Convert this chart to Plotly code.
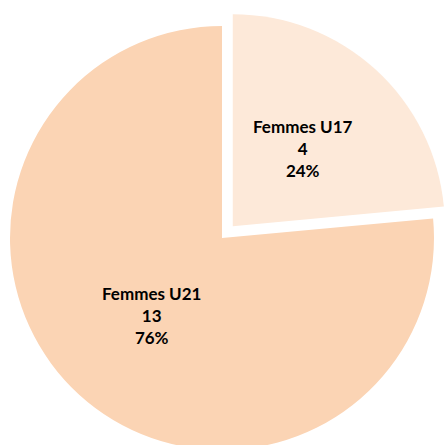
import math
import plotly.graph_objects as go

categories = ["Femmes U17", "Femmes U21"]
values = [4, 13]
colors = ["#FDE9D9", "#FBD4B4"]
pulled = [True, False]

W, H = 446, 462
R = 212
main_center = (222, 238)
pull_offset = 16  # pixels the pulled slice is moved out along its bisector

total = sum(values)
fracs = [v / total for v in values]

fig = go.Figure()

def dom(cx, cy):
    return dict(x=[(cx - R) / W, (cx + R) / W], y=[1 - (cy + R) / H, 1 - (cy - R) / H])

# slice mid-angles (clockwise from 12 o'clock)
mids = []
acc = 0
for f in fracs:
    mids.append((acc + f / 2) * 2 * math.pi)
    acc += f

transparent = "rgba(0,0,0,0)"
# main pie (non-pulled slices)
fig.add_trace(go.Pie(
    labels=categories, values=values, sort=False, direction="clockwise", rotation=0,
    marker=dict(colors=[transparent if p else c for c, p in zip(colors, pulled)], line=dict(width=0)),
    textinfo="none", hoverinfo="label+value+percent", domain=dom(*main_center), showlegend=False,
))
# pulled slice(s)
for i, p in enumerate(pulled):
    if not p:
        continue
    cx = main_center[0] + pull_offset * math.sin(mids[i])
    cy = main_center[1] - pull_offset * math.cos(mids[i])
    fig.add_trace(go.Pie(
        labels=categories, values=values, sort=False, direction="clockwise", rotation=0,
        marker=dict(colors=[c if j == i else transparent for j, c in enumerate(colors)], line=dict(width=0)),
        textinfo="none", hoverinfo="label+value+percent", domain=dom(cx, cy), showlegend=False,
    ))

# labels
for i, (cat, v, f) in enumerate(zip(categories, values, fracs)):
    cx, cy = main_center
    if pulled[i]:
        cx += pull_offset * math.sin(mids[i])
        cy -= pull_offset * math.cos(mids[i])
    d = 0.495 * R
    x = cx + d * math.sin(mids[i])
    y = cy - d * math.cos(mids[i])
    fig.add_annotation(
        x=x / W, y=1 - y / H, xref="paper", yref="paper", showarrow=False,
        text=f"<b>{cat}<br>{v}<br>{round(f * 100)}%</b>",
        font=dict(family="Lato", size=17, color="#000000"), align="center",
        xanchor="center", yanchor="middle",
    )

fig.update_layout(
    width=W, height=H, margin=dict(l=0, r=0, t=0, b=0),
    paper_bgcolor="white", plot_bgcolor="white", showlegend=False,
)

fig.write_html(
    "out.html",
    config={"displayModeBar": False},
    post_script="document.body.style.margin='0';document.body.style.overflow='hidden';document.documentElement.style.overflow='hidden';",
)
